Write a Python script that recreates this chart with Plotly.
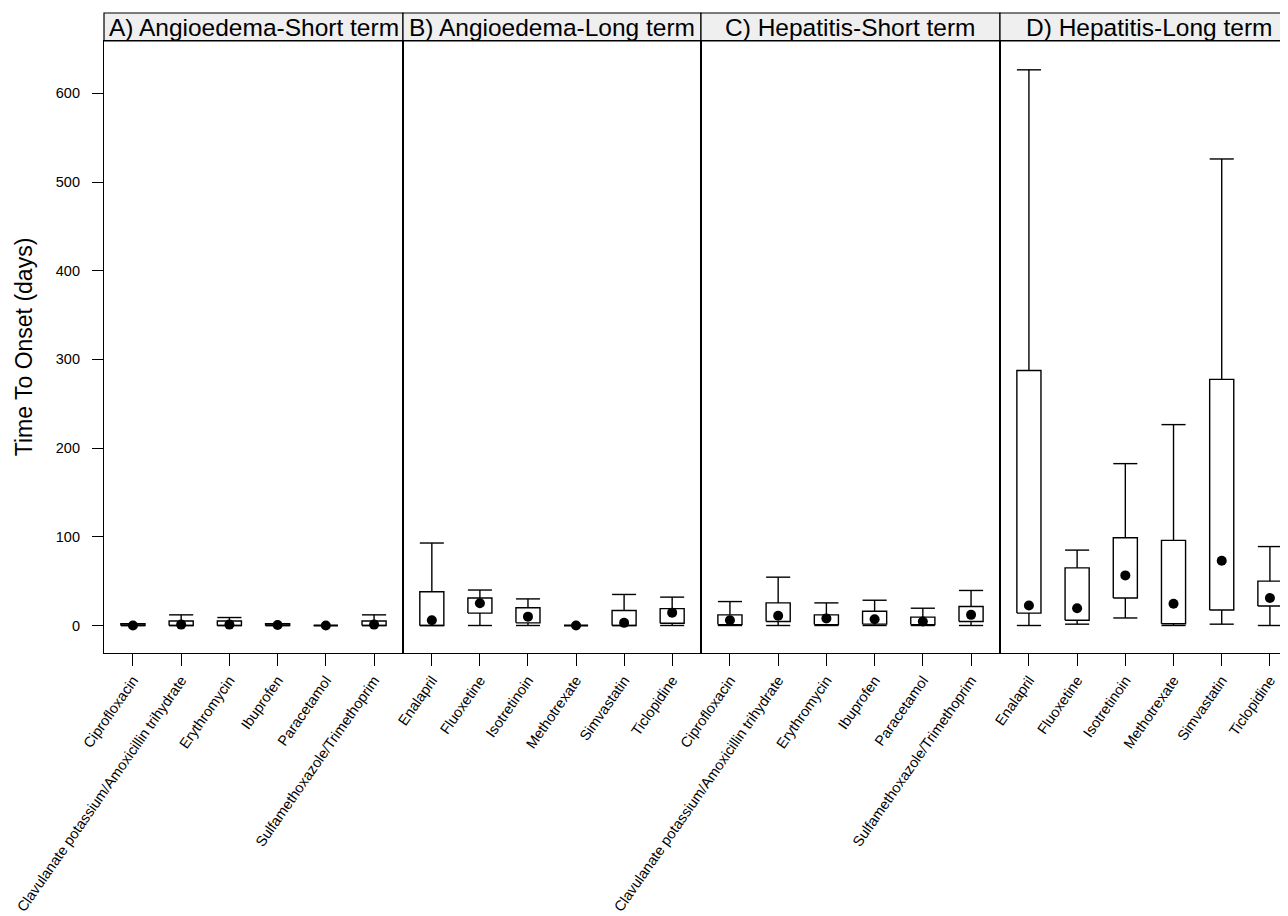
import plotly.graph_objects as go

# ---------------- data ----------------
panel_titles = ["A) Angioedema-Short term", "B) Angioedema-Long term",
                "C) Hepatitis-Short term", "D) Hepatitis-Long term"]

short_drugs = ["Ciprofloxacin", "Clavulanate potassium/Amoxicillin trihydrate",
               "Erythromycin", "Ibuprofen", "Paracetamol",
               "Sulfamethoxazole/Trimethoprim"]
long_drugs = ["Enalapril", "Fluoxetine", "Isotretinoin", "Methotrexate",
              "Simvastatin", "Ticlopidine"]

# A) Angioedema - Short term
a_low = [0, 0, 0, 0, 0, 0]
a_q1 = [0, 0, 0, 0, 0, 0]
a_med = [0, 1, 1, 0.5, 0, 1]
a_q3 = [2, 5, 5, 2, 0, 5]
a_high = [2, 12, 9, 2, 0, 12]

# B) Angioedema - Long term
b_low = [0, 0, 0, 0, 0, 0]
b_q1 = [0, 14, 3, 0, 0, 2.5]
b_med = [6, 25, 10, 0, 3, 14.5]
b_q3 = [38, 31, 20, 0, 17, 19]
b_high = [93, 40, 30, 0, 35, 32]

# C) Hepatitis - Short term
c_low = [0, 0, 0, 0, 0, 0]
c_q1 = [1, 4.5, 1, 1.5, 1, 4.5]
c_med = [6, 11, 8, 7, 4.5, 12]
c_q3 = [12, 25.5, 12, 16, 9.5, 21.5]
c_high = [27, 54.5, 25.5, 28.5, 19.5, 39.5]

# D) Hepatitis - Long term
d_low = [0, 1.5, 8.5, 0, 1.5, 0]
d_q1 = [14, 6, 31, 2, 17.5, 22]
d_med = [22.5, 19.5, 56.5, 24.5, 73, 31]
d_q3 = [287.5, 65, 99, 96, 277.5, 50]
d_high = [626.5, 85, 182.5, 226.5, 526, 89]

y_ticks = [0, 100, 200, 300, 400, 500, 600]

panels = [
    (short_drugs, a_low, a_q1, a_med, a_q3, a_high),
    (long_drugs, b_low, b_q1, b_med, b_q3, b_high),
    (short_drugs, c_low, c_q1, c_med, c_q3, c_high),
    (long_drugs, d_low, d_q1, d_med, d_q3, d_high),
]

# ---------------- layout geometry ----------------
# page body has an 8px margin, so the figure is drawn 8px in from the window edge
W, H = 1280, 908
ML, MR, MT, MB = 96, 0, 33, 263
plot_w = W - ML - MR
edges_px = [96, 395, 693, 992, 1280]
domains = [[(edges_px[i] - ML) / plot_w, (edges_px[i + 1] - ML) / plot_w] for i in range(4)]
# the last panel runs past the right edge of the picture; its header text is
# centred on the full (partly hidden) panel
full_right = 1290
title_centres = [(edges_px[i] - ML + (edges_px[i + 1] if i < 3 else full_right) - ML) / 2 / plot_w
                 for i in range(4)]
unit_px = 48.2
x_ranges = [[0.4, 6.6], [0.4, 6.6], [0.4, 6.6], [0.4, 0.4 + (1280 - 992) / unit_px]]
y_range = [-31, 659]
half_w = 0.25

FONT = "Liberation Sans, Arial, sans-serif"
LINE_W = 1.4

fig = go.Figure()

for i, (names, lo, q1, med, q3, hi) in enumerate(panels):
    xa = "x" if i == 0 else f"x{i+1}"
    ya = "y" if i == 0 else f"y{i+1}"
    xs, ys = [], []
    for k in range(len(names)):
        c = k + 1
        # box rectangle
        xs += [c - half_w, c + half_w, c + half_w, c - half_w, c - half_w, None]
        ys += [q1[k], q1[k], q3[k], q3[k], q1[k], None]
        # upper whisker + cap
        xs += [c, c, None, c - half_w, c + half_w, None]
        ys += [q3[k], hi[k], None, hi[k], hi[k], None]
        # lower whisker + cap
        xs += [c, c, None, c - half_w, c + half_w, None]
        ys += [q1[k], lo[k], None, lo[k], lo[k], None]
    fig.add_trace(go.Scatter(x=xs, y=ys, mode="lines", xaxis=xa, yaxis=ya,
                             line=dict(color="black", width=LINE_W),
                             hoverinfo="skip", showlegend=False))
    fig.add_trace(go.Scatter(x=list(range(1, len(names) + 1)), y=med, mode="markers",
                             xaxis=xa, yaxis=ya,
                             marker=dict(color="black", size=10, line=dict(width=0)),
                             text=names, showlegend=False))

layout = dict(
    width=W, height=H,
    margin=dict(l=ML, r=MR, t=MT, b=MB, pad=0, autoexpand=False),
    paper_bgcolor="white", plot_bgcolor="white",
    font=dict(family=FONT, color="black", size=12),
    showlegend=False,
)

for i in range(4):
    xkey = "xaxis" if i == 0 else f"xaxis{i+1}"
    ykey = "yaxis" if i == 0 else f"yaxis{i+1}"
    names = panels[i][0]
    layout[xkey] = dict(
        domain=domains[i], range=x_ranges[i], anchor="y" if i == 0 else f"y{i+1}",
        tickmode="array", tickvals=list(range(1, len(names) + 1)), ticktext=names,
        ticks="outside", ticklen=12, tickwidth=1.2, tickcolor="black",
        tickangle=-55, tickfont=dict(size=14.5, family=FONT, color="black"),
        showline=True, linecolor="black", linewidth=1.2, mirror=True,
        showgrid=False, zeroline=False, fixedrange=True, automargin=False,
    )
    ycfg = dict(
        domain=[0, 1], range=y_range, anchor="x" if i == 0 else f"x{i+1}",
        showline=True, linecolor="black", linewidth=1.2,
        mirror=(i < 3), showgrid=False, zeroline=False, fixedrange=True,
        automargin=False,
    )
    if i == 0:
        ycfg.update(dict(
            tickmode="array", tickvals=y_ticks, ticktext=[str(v) for v in y_ticks],
            ticks="outside", ticklen=11, tickwidth=1.2, tickcolor="black",
            tickfont=dict(size=14.5, family=FONT, color="black"),
            ticklabelstandoff=9,
            title=dict(text="Time To Onset (days)", font=dict(size=23, family=FONT, color="black"),
                       standoff=16),
        ))
    else:
        ycfg.update(dict(showticklabels=False, ticks=""))
        ycfg["matches"] = "y"
    layout[ykey] = ycfg

fig.update_layout(**layout)

# strip headers
strip_top = 1 + 28 / (H - MT - MB)
for i in range(4):
    x0, x1 = domains[i]
    if i == 3:
        x1 = 1.02
    fig.add_shape(type="rect", xref="paper", yref="paper", x0=x0, x1=x1, y0=1, y1=strip_top,
                  fillcolor="#EFEFEF", line=dict(color="black", width=1.2), layer="below")
    fig.add_annotation(xref="paper", yref="paper", x=title_centres[i],
                       y=(1 + strip_top) / 2, text=panel_titles[i], showarrow=False,
                       xanchor="center", yanchor="middle",
                       font=dict(size=24.5, family=FONT, color="black"))

fig.write_html("out.html")
